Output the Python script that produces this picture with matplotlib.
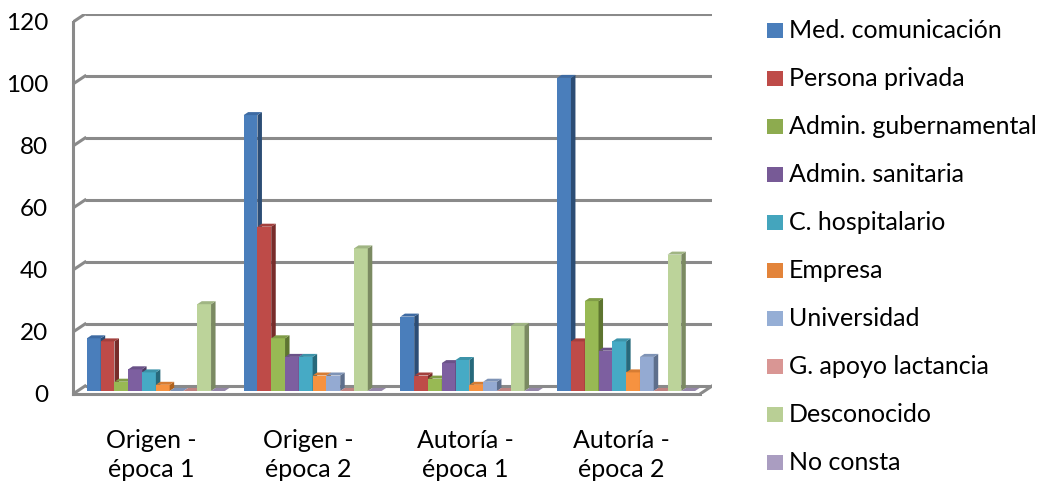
import matplotlib
matplotlib.use("Agg")
import matplotlib.pyplot as plt
from matplotlib.patches import Polygon, Rectangle

plt.rcParams["font.family"] = ["Lato", "DejaVu Sans"]

# categorias del eje x
categorias = ["Origen -\népoca 1", "Origen -\népoca 2", "Autoría -\népoca 1", "Autoría -\népoca 2"]

# valores por serie (una posición por categoría)
med_comunicacion = [17, 89, 24, 101]
persona_privada = [16, 53, 5, 16]
admin_gubernamental = [3, 17, 4, 29]
admin_sanitaria = [7, 11, 9, 13]
c_hospitalario = [6, 11, 10, 16]
empresa = [2, 5, 2, 6]
universidad = [0, 5, 3, 11]
g_apoyo_lactancia = [0, 0, 0, 0]
desconocido = [28, 46, 21, 44]
no_consta = [0, 0, 0, 0]

nombres = ["Med. comunicación", "Persona privada", "Admin. gubernamental",
           "Admin. sanitaria", "C. hospitalario", "Empresa", "Universidad",
           "G. apoyo lactancia", "Desconocido", "No consta"]
valores = [med_comunicacion, persona_privada, admin_gubernamental, admin_sanitaria,
           c_hospitalario, empresa, universidad, g_apoyo_lactancia, desconocido, no_consta]

# (frente, lateral, superior)
colores = [
    ("#4a7ebb", "#2c4d75", "#3e6ba3"),
    ("#be4b48", "#772c2a", "#a3403d"),
    ("#98b954", "#5e7530", "#809c47"),
    ("#7d5fa0", "#4c3a63", "#6a5288"),
    ("#46aac5", "#27697b", "#3c93a9"),
    ("#f69240", "#b0621d", "#d67c33"),
    ("#94aad2", "#5e6f8c", "#7e93b6"),
    ("#d99694", "#9c6463", "#bf8280"),
    ("#bcd39a", "#7b8a62", "#a0b583"),
    ("#ad9fc4", "#6f6585", "#9587a9"),
]
colores_leyenda = ["#4a7ebb", "#be4b48", "#8dab4f", "#775a96", "#44a5bd",
                   "#e3843a", "#95aed5", "#d99694", "#b9cf95", "#aa9dc1"]

Y_MAX = 120
PROF_X = 12 / 156.75   # desplazamiento de profundidad en x (unidades de categoría)
PROF_Y = 8 / 3.1       # desplazamiento de profundidad en y (unidades de valor)
F0, F1 = 0.375, 0.75   # profundidad de las columnas (frente / fondo)
INICIO_GRUPO = 0.06
ANCHO_BARRA = 0.088
GRIS = "#8a8a8a"

fig = plt.figure(figsize=(10.43, 4.83), dpi=100)
ax = fig.add_axes([73 / 1043, 1 - 394 / 483, 639 / 1043, 380 / 483])
n_cat = len(categorias)
ax.set_xlim(0, n_cat + PROF_X)
ax.set_ylim(0, Y_MAX + PROF_Y)

# pared del fondo y líneas laterales
for v in range(0, Y_MAX + 1, 20):
    ax.plot([PROF_X, n_cat + PROF_X], [v + PROF_Y, v + PROF_Y], color=GRIS, lw=2.2,
            solid_capstyle="butt", zorder=1)
    ax.plot([0, PROF_X], [v, v + PROF_Y], color=GRIS, lw=2.2, zorder=1)
ax.plot([n_cat, n_cat + PROF_X], [0, PROF_Y], color=GRIS, lw=2.2, zorder=1)

# columnas 3D
for j, (vals, (c_fr, c_lat, c_sup)) in enumerate(zip(valores, colores)):
    z = 3 + j
    xs = [i + INICIO_GRUPO + j * ANCHO_BARRA + F0 * PROF_X for i in range(n_cat)]
    ax.bar(xs, vals, width=ANCHO_BARRA, bottom=F0 * PROF_Y, align="edge",
           color=c_fr, linewidth=0, zorder=z)
    for x0, v in zip(xs, vals):
        x1 = x0 + ANCHO_BARRA
        dx = (F1 - F0) * PROF_X
        dy = (F1 - F0) * PROF_Y
        b = F0 * PROF_Y
        lateral = [(x1, b), (x1 + dx, b + dy), (x1 + dx, b + dy + v), (x1, b + v)]
        superior = [(x0, b + v), (x1, b + v), (x1 + dx, b + dy + v), (x0 + dx, b + dy + v)]
        ax.add_patch(Polygon(lateral, closed=True, facecolor=c_lat, edgecolor="none", zorder=z))
        ax.add_patch(Polygon(superior, closed=True, facecolor=c_sup, edgecolor="none", zorder=z))

for lado in ["top", "right"]:
    ax.spines[lado].set_visible(False)
ax.spines["left"].set_bounds(0, Y_MAX)
ax.spines["bottom"].set_bounds(0, n_cat)
for lado in ["left", "bottom"]:
    ax.spines[lado].set_color(GRIS)
    ax.spines[lado].set_linewidth(2.2)

ax.set_yticks(range(0, Y_MAX + 1, 20))
ax.tick_params(axis="y", length=0, pad=18, labelsize=17.5)
ax.set_xticks([i + 0.5 for i in range(n_cat)])
ax.set_xticklabels(categorias, linespacing=1.35)
ax.tick_params(axis="x", length=0, pad=25, labelsize=18)

# leyenda
for k, (nombre, color) in enumerate(zip(nombres, colores_leyenda)):
    yc = 1 - (30 + k * 48.1) / 483
    fig.patches.append(Rectangle((767 / 1043, yc - 7.5 / 483), 16 / 1043, 15 / 483,
                                 transform=fig.transFigure, facecolor=color,
                                 edgecolor="none"))
    fig.text(789 / 1043, yc, nombre, fontsize=18, va="center", ha="left")

fig.savefig("out.png", dpi=100)
